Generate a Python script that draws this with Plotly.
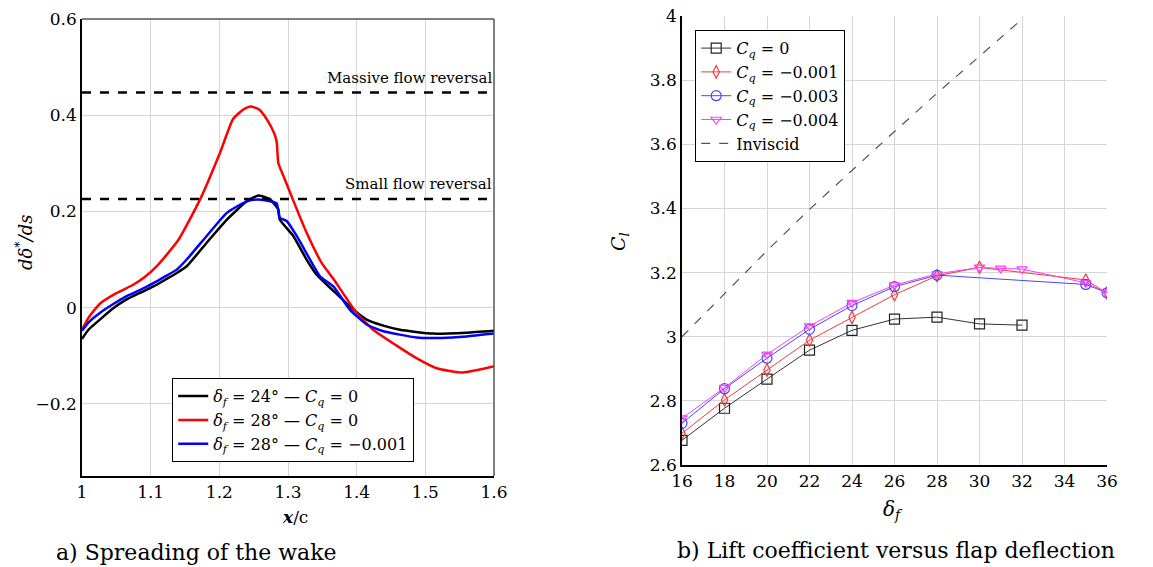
import plotly.graph_objects as go

# ---------------- Left panel data ----------------
x_black = [1.0, 1.01, 1.026, 1.045, 1.065, 1.085, 1.104, 1.12, 1.138, 1.1525, 1.1816, 1.211, 1.24, 1.257, 1.274,
           1.282, 1.286, 1.288, 1.3077, 1.327, 1.342, 1.366, 1.395, 1.4146, 1.44, 1.463, 1.511, 1.56, 1.6]
y_black = [-0.065, -0.045, -0.025, -0.002, 0.017, 0.031, 0.044, 0.057, 0.072, 0.086, 0.135, 0.183, 0.221, 0.233,
           0.225, 0.212, 0.204, 0.183, 0.149, 0.100, 0.068, 0.035, -0.004, -0.025, -0.038, -0.046, -0.054, -0.052, -0.048]

x_red = [1.0, 1.01, 1.026, 1.05, 1.074, 1.09, 1.11, 1.14, 1.172, 1.201, 1.22, 1.235, 1.2457, 1.258, 1.269, 1.28,
         1.2835, 1.286, 1.295, 1.307, 1.327, 1.349, 1.366, 1.40, 1.424, 1.456, 1.487, 1.5165, 1.555, 1.6]
y_red = [-0.046, -0.020, 0.008, 0.030, 0.047, 0.062, 0.088, 0.140, 0.225, 0.322, 0.392, 0.412, 0.418, 0.412, 0.392,
         0.362, 0.345, 0.300, 0.268, 0.225, 0.156, 0.093, 0.060, -0.011, -0.046, -0.077, -0.105, -0.126, -0.135, -0.122]

x_blue = [1.0, 1.01, 1.026, 1.045, 1.065, 1.085, 1.104, 1.12, 1.138, 1.1525, 1.1816, 1.211, 1.24, 1.257, 1.274,
          1.2835, 1.286, 1.288, 1.298, 1.3127, 1.332, 1.3466, 1.366, 1.39, 1.4146, 1.4388, 1.487, 1.523, 1.56, 1.6]
y_blue = [-0.048, -0.030, -0.011, 0.007, 0.024, 0.037, 0.051, 0.064, 0.079, 0.100, 0.149, 0.197, 0.221, 0.225,
          0.221, 0.217, 0.200, 0.187, 0.180, 0.149, 0.100, 0.065, 0.044, -0.004, -0.035, -0.049, -0.062, -0.063, -0.060, -0.054]

massive_level = 0.447
small_level = 0.226

left_xticks = [1.0, 1.1, 1.2, 1.3, 1.4, 1.5, 1.6]
left_xticktext = ["1", "1.1", "1.2", "1.3", "1.4", "1.5", "1.6"]
left_yticks = [-0.2, 0.0, 0.2, 0.4, 0.6]
left_yticktext = ["\u22120.2", "0", "0.2", "0.4", "0.6"]

# ---------------- Right panel data ----------------
df_cq0 = [16, 18, 20, 22, 24, 26, 28, 30, 32]
cl_cq0 = [2.677, 2.777, 2.868, 2.958, 3.020, 3.055, 3.061, 3.040, 3.036]

df_cq1 = [16, 18, 20, 22, 24, 26, 28, 30, 35, 36]
cl_cq1 = [2.699, 2.803, 2.896, 2.989, 3.060, 3.131, 3.190, 3.216, 3.177, 3.136]

df_cq3 = [16, 18, 20, 22, 24, 26, 28, 35, 36]
cl_cq3 = [2.730, 2.838, 2.933, 3.023, 3.097, 3.156, 3.192, 3.163, 3.137]

df_cq4 = [16, 18, 20, 22, 24, 26, 28, 30, 31, 32, 35, 36]
cl_cq4 = [2.746, 2.841, 2.945, 3.033, 3.106, 3.161, 3.196, 3.216, 3.213, 3.211, 3.168, 3.137]

df_inv = [16, 18, 20, 22, 24, 26, 28, 30, 32]
cl_inv = [3.000, 3.135, 3.268, 3.397, 3.520, 3.640, 3.759, 3.875, 3.990]

right_xticks = [16, 18, 20, 22, 24, 26, 28, 30, 32, 34, 36]
right_yticks = [2.6, 2.8, 3.0, 3.2, 3.4, 3.6, 3.8, 4.0]
right_yticktext = ["2.6", "2.8", "3", "3.2", "3.4", "3.6", "3.8", "4"]

SERIF = "DejaVu Serif"
W, H = 1153, 567

fig = go.Figure()

LS = dict(shape="spline", smoothing=0.5)

# Left panel traces
fig.add_trace(go.Scatter(x=x_black, y=y_black, mode="lines", line=dict(color="black", width=2.5, **LS),
                         name="<i>δ</i><sub><i>f</i></sub> = 24° — <i>C</i><sub><i>q</i></sub> = 0",
                         xaxis="x", yaxis="y", legend="legend"))
fig.add_trace(go.Scatter(x=x_red, y=y_red, mode="lines", line=dict(color="#ff0000", width=2.5, **LS),
                         name="<i>δ</i><sub><i>f</i></sub> = 28° — <i>C</i><sub><i>q</i></sub> = 0",
                         xaxis="x", yaxis="y", legend="legend"))
fig.add_trace(go.Scatter(x=x_blue, y=y_blue, mode="lines", line=dict(color="#0000ff", width=2.5, **LS),
                         name="<i>δ</i><sub><i>f</i></sub> = 28° — <i>C</i><sub><i>q</i></sub> = \u22120.001",
                         xaxis="x", yaxis="y", legend="legend"))
fig.add_trace(go.Scatter(x=[left_xticks[0], left_xticks[-1]], y=[massive_level, massive_level], mode="lines",
                         line=dict(color="black", width=2.5, dash="dash"), showlegend=False,
                         xaxis="x", yaxis="y"))
fig.add_trace(go.Scatter(x=[left_xticks[0], left_xticks[-1]], y=[small_level, small_level], mode="lines",
                         line=dict(color="black", width=2.5, dash="dash"), showlegend=False,
                         xaxis="x", yaxis="y"))

# Right panel traces
fig.add_trace(go.Scatter(x=df_cq0, y=cl_cq0, mode="lines+markers",
                         line=dict(color="#333333", width=1),
                         marker=dict(symbol="square-open", size=10, color="#222222", line=dict(width=1.2)),
                         name="<i>C</i><sub><i>q</i></sub> = 0", xaxis="x2", yaxis="y2", legend="legend2"))
fig.add_trace(go.Scatter(x=df_cq1, y=cl_cq1, mode="lines+markers",
                         line=dict(color="#f03c3c", width=1),
                         marker=dict(symbol="diamond-tall-open", size=9, color="#f03c3c", line=dict(width=1.2)),
                         name="<i>C</i><sub><i>q</i></sub> = \u22120.001", xaxis="x2", yaxis="y2", legend="legend2"))
fig.add_trace(go.Scatter(x=df_cq3, y=cl_cq3, mode="lines+markers",
                         line=dict(color="#4646ff", width=1),
                         marker=dict(symbol="circle-open", size=10, color="#4646ff", line=dict(width=1.2)),
                         name="<i>C</i><sub><i>q</i></sub> = \u22120.003", xaxis="x2", yaxis="y2", legend="legend2"))
fig.add_trace(go.Scatter(x=df_cq4, y=cl_cq4, mode="lines+markers",
                         line=dict(color="#ff3cff", width=1),
                         marker=dict(symbol="triangle-down-open", size=9, color="#ff3cff", line=dict(width=1.2)),
                         name="<i>C</i><sub><i>q</i></sub> = \u22120.004", xaxis="x2", yaxis="y2", legend="legend2"))
fig.add_trace(go.Scatter(x=df_inv, y=cl_inv, mode="lines",
                         line=dict(color="#555555", width=1.2, dash="dash"),
                         name="Inviscid", xaxis="x2", yaxis="y2", legend="legend2"))

tickfont = dict(family=SERIF, size=17, color="black")
grid = "#d6d6d6"

fig.update_layout(
    width=W, height=H, autosize=False,
    margin=dict(l=0, r=0, t=0, b=0, pad=0, autoexpand=False),
    paper_bgcolor="white", plot_bgcolor="white",
    font=dict(family=SERIF, color="black"),
    xaxis=dict(domain=[82 / W, 494 / W], range=[1, 1.6], tickvals=left_xticks, ticktext=left_xticktext,
               showgrid=True, gridcolor=grid, gridwidth=1, zeroline=False, automargin=False,
               showline=True, linecolor="black", linewidth=1.5, ticks="", tickfont=tickfont,
               anchor="y"),
    yaxis=dict(domain=[1 - 476 / H, 1 - 19 / H], range=[-0.35, 0.6], tickvals=left_yticks, ticktext=left_yticktext,
               showgrid=True, gridcolor=grid, gridwidth=1, zeroline=False, automargin=False,
               showline=True, linecolor="black", linewidth=1.5, ticks="", tickfont=tickfont,
               anchor="x"),
    xaxis2=dict(domain=[682 / W, 1107 / W], range=[16, 36], tickvals=right_xticks,
                showgrid=True, gridcolor=grid, gridwidth=1, zeroline=False, automargin=False,
                showline=True, linecolor="black", linewidth=1.5, ticks="", tickfont=tickfont,
                anchor="y2"),
    yaxis2=dict(domain=[1 - 465 / H, 1 - 16 / H], range=[2.6, 4.0], tickvals=right_yticks, ticktext=right_yticktext,
                showgrid=True, gridcolor=grid, gridwidth=1, zeroline=False, automargin=False,
                showline=True, linecolor="black", linewidth=1.5, ticks="", tickfont=tickfont,
                anchor="x2"),
    legend=dict(x=172 / W, y=1 - 378 / H, xanchor="left", yanchor="top",
                bordercolor="black", borderwidth=1.2, bgcolor="white",
                font=dict(family=SERIF, size=16, color="black"), tracegroupgap=0,
                itemwidth=30),
    legend2=dict(x=695 / W, y=1 - 30 / H, xanchor="left", yanchor="top",
                 bordercolor="black", borderwidth=1.2, bgcolor="white",
                 font=dict(family=SERIF, size=16, color="black"), tracegroupgap=0,
                 itemwidth=30),
    showlegend=True,
)

# Top/right frame of left panel (dark grey)
fig.add_shape(type="line", xref="x domain", yref="y domain", x0=0, x1=1, y0=1, y1=1,
              line=dict(color="#555555", width=1.5))
fig.add_shape(type="line", xref="x domain", yref="y domain", x0=1, x1=1, y0=0, y1=1,
              line=dict(color="#555555", width=1.5))

annots = [
    dict(text="Massive flow reversal", x=1.6, y=0.477, xref="x", yref="y", xanchor="right", yanchor="middle",
         showarrow=False, font=dict(family=SERIF, size=15)),
    dict(text="Small flow reversal", x=1.6, y=0.256, xref="x", yref="y", xanchor="right", yanchor="middle",
         showarrow=False, font=dict(family=SERIF, size=15)),
    dict(text="<i>dδ</i><sup>*</sup><i>/ds</i>", x=24 / W, y=1 - 243 / H, xref="paper", yref="paper",
         textangle=-90, showarrow=False, font=dict(family=SERIF, size=18), xanchor="center", yanchor="middle"),
    dict(text="<b><i>x</i></b>/c", x=295 / W, y=1 - 517 / H, xref="paper", yref="paper",
         showarrow=False, font=dict(family=SERIF, size=17), xanchor="center", yanchor="middle"),
    dict(text="<i>C</i><sub><i>l</i></sub>", x=619 / W, y=1 - 242 / H, xref="paper", yref="paper",
         textangle=-90, showarrow=False, font=dict(family=SERIF, size=19), xanchor="center", yanchor="middle"),
    dict(text="<i>δ</i><sub><i>f</i></sub>", x=893 / W, y=1 - 510 / H, xref="paper", yref="paper",
         showarrow=False, font=dict(family=SERIF, size=20), xanchor="center", yanchor="middle"),
    dict(text="a) Spreading of the wake", x=196 / W, y=1 - 552 / H, xref="paper", yref="paper",
         showarrow=False, font=dict(family=SERIF, size=22), xanchor="center", yanchor="middle"),
    dict(text="b) Lift coefficient versus flap deflection", x=896 / W, y=1 - 550 / H, xref="paper", yref="paper",
         showarrow=False, font=dict(family=SERIF, size=22), xanchor="center", yanchor="middle"),
]
fig.update_layout(annotations=annots)

fig.write_html("out.html")
